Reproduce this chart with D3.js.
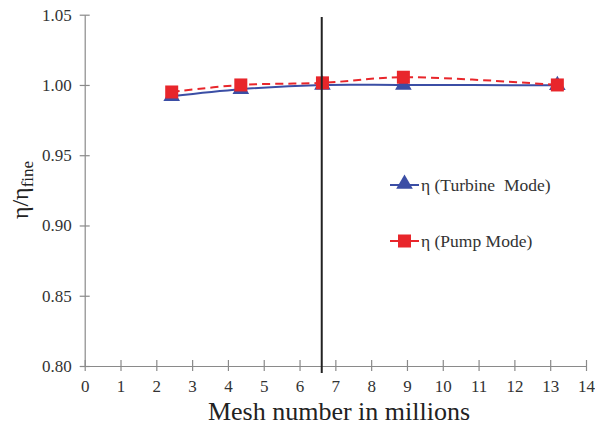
<!DOCTYPE html>
<html><head><meta charset="utf-8">
<script src="https://cdn.jsdelivr.net/npm/d3@7"></script>
<style>body{margin:0;background:#fff} text{font-family:'Liberation Serif','Times New Roman',serif}</style>
</head><body>
<svg id="c" width="595" height="432"></svg>
<script>
const meshMillions = [2.43, 4.36, 6.64, 8.9, 13.2];
const turbineEta = [0.992, 0.997, 1.000, 1.000, 0.9998];
const pumpEta = [0.995, 1.000, 1.0015, 1.0055, 1.000];
const xTicks = d3.range(0, 15, 1);
const yTicks = [0.80, 0.85, 0.90, 0.95, 1.00, 1.05];
const selectedMesh = 6.62;
const seriesNames = ["\u03B7 (Turbine\u00A0 Mode)", "\u03B7 (Pump Mode)"];

const svg = d3.select("#c");
const font = "'Liberation Serif','Times New Roman',serif";
const x = d3.scaleLinear().domain([0, 14]).range([84.7, 586]);
const y = d3.scaleLinear().domain([0.80, 1.05]).range([366, 14.7]);
const axisColor = "#8a8a8a";

// axes
const gx = svg.append("g").attr("transform", `translate(0,${y(0.80)})`)
  .call(d3.axisBottom(x).tickValues(xTicks).tickFormat(d3.format("d")).tickSize(5).tickSizeOuter(0));
const gy = svg.append("g").attr("transform", `translate(${x(0)},0)`)
  .call(d3.axisLeft(y).tickValues(yTicks).tickFormat(d3.format(".2f")).tickSize(5).tickSizeOuter(0));
[gx, gy].forEach(g => {
  g.attr("font-family", font).attr("font-size", 17);
  g.select(".domain").attr("stroke", axisColor).attr("stroke-width", 1.2);
  g.selectAll(".tick line").attr("stroke", axisColor).attr("stroke-width", 1.2);
  g.selectAll(".tick text").attr("fill", "#333").style("font-family", font).style("font-size", "17px");
});
gx.selectAll(".tick line").attr("y1", -6).attr("y2", 5);
gx.selectAll(".tick text").attr("y", 14);
gy.selectAll(".tick line").attr("x1", -5).attr("x2", 5);
gy.selectAll(".tick text").attr("x", -13);

// lines
const lineT = d3.line().x((d, i) => x(meshMillions[i])).y(d => y(d)).curve(d3.curveCatmullRom);
svg.append("path").datum(turbineEta).attr("d", lineT).attr("fill", "none")
  .attr("stroke", "#3b4ea5").attr("stroke-width", 2);
svg.append("path").datum(pumpEta).attr("d", lineT).attr("fill", "none")
  .attr("stroke", "#e8262b").attr("stroke-width", 2).attr("stroke-dasharray", "8,5");

// markers
const tri = d3.symbol().type(d3.symbolTriangle).size(120);
svg.append("g").selectAll("path").data(turbineEta).join("path")
  .attr("d", tri).attr("transform", (d, i) => `translate(${x(meshMillions[i])},${y(d)})`)
  .attr("fill", "#3b4ea5");
svg.append("g").selectAll("rect").data(pumpEta).join("rect")
  .attr("x", (d, i) => x(meshMillions[i]) - 6.5).attr("y", d => y(d) - 6.5)
  .attr("width", 13).attr("height", 13).attr("fill", "#e8262b");

// vertical line
svg.append("line").attr("x1", x(selectedMesh)).attr("x2", x(selectedMesh))
  .attr("y1", 17).attr("y2", 373).attr("stroke", "#222").attr("stroke-width", 2);

// legend
const legY = [185, 241];
const legColors = ["#3b4ea5", "#e8262b"];
legY.forEach((ly, i) => {
  svg.append("line").attr("x1", 390).attr("x2", 419).attr("y1", ly).attr("y2", ly)
    .attr("stroke", legColors[i]).attr("stroke-width", 2);
  if (i === 0) svg.append("path").attr("d", tri).attr("transform", `translate(404.5,${ly - 1})`).attr("fill", legColors[i]);
  else svg.append("rect").attr("x", 398).attr("y", ly - 6.5).attr("width", 13).attr("height", 13).attr("fill", legColors[i]);
  svg.append("text").attr("x", 421).attr("y", ly + 5.5).text(seriesNames[i])
    .style("font-family", font).style("font-size", "17.5px").attr("fill", "#333");
});

// axis titles
svg.append("text").attr("x", 339).attr("y", 420).attr("text-anchor", "middle")
  .style("font-family", font).style("font-size", "26px").attr("fill", "#222").text("Mesh number in millions");
const yt = svg.append("text").attr("transform", "translate(28,190) rotate(-90)").attr("text-anchor", "middle")
  .style("font-family", font).style("font-size", "24px").attr("fill", "#222");
yt.append("tspan").text("\u03B7/\u03B7");
yt.append("tspan").attr("dy", 5).style("font-size", "17px").text("fine");
</script>
</body></html>
